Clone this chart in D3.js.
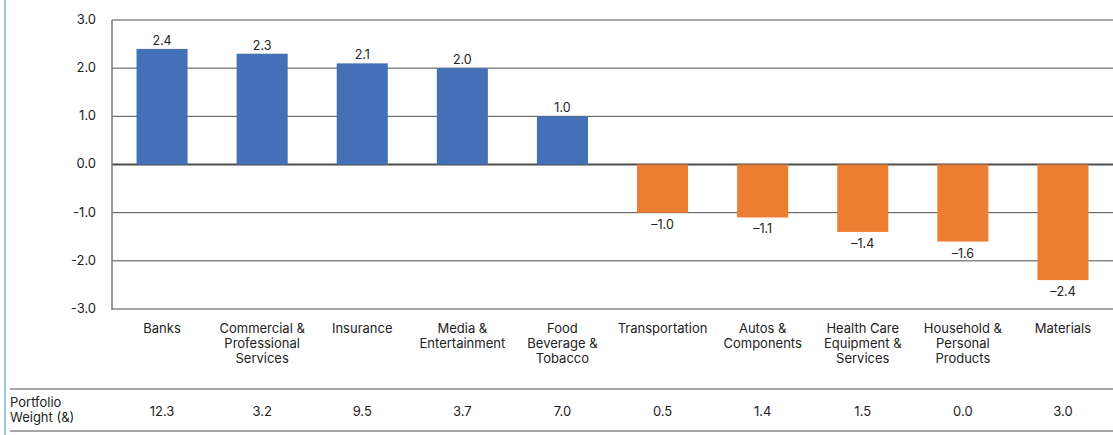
<!DOCTYPE html>
<meta charset="utf-8">
<style>
body { margin: 0; background: #fff; }
svg text { font-family: "Inter", "Liberation Sans", sans-serif; fill: #222; }
</style>
<body>
<svg width="1113" height="435"></svg>
<script src="https://cdnjs.cloudflare.com/ajax/libs/d3/7.8.5/d3.min.js"></script>
<script>

var categories = ["Banks", "Commercial &\nProfessional\nServices", "Insurance", "Media &\nEntertainment",
  "Food\nBeverage &\nTobacco", "Transportation", "Autos &\nComponents", "Health Care\nEquipment &\nServices",
  "Household &\nPersonal\nProducts", "Materials"];
var values = [2.4, 2.3, 2.1, 2.0, 1.0, -1.0, -1.1, -1.4, -1.6, -2.4];
var weights = ["12.3", "3.2", "9.5", "3.7", "7.0", "0.5", "1.4", "1.5", "0.0", "3.0"];
var yTicks = [3, 2, 1, 0, -1, -2, -3];
var yTickLabels = ["3.0", "2.0", "1.0", "0.0", "-1.0", "-2.0", "-3.0"];
var weightLabel = ["Portfolio", "Weight (&)"];

var svg = d3.select("svg"),
    W = +svg.attr("width"),
    plotLeft = 112, plotTop = 20, plotBottom = 309;

var x = d3.scaleBand()
    .domain(categories)
    .range([plotLeft, W])
    .paddingInner(0.49)
    .paddingOuter(0.245);

var y = d3.scaleLinear()
    .domain([-3, 3])
    .range([plotBottom, plotTop]);

// left accent line
svg.append("line")
    .attr("x1", 5).attr("x2", 5).attr("y1", 0).attr("y2", 435)
    .attr("stroke", "#74b3e3").attr("stroke-width", 1.5);

// gridlines
svg.append("g").selectAll("line")
    .data(yTicks)
  .enter().append("line")
    .attr("x1", plotLeft).attr("x2", W)
    .attr("y1", function(d) { return y(d); })
    .attr("y2", function(d) { return y(d); })
    .attr("stroke", function(d) { return (d == 3 || d == -3) ? "#8a8a8a" : "#4d4d4d"; })
    .attr("stroke-width", function(d) { return d == 0 ? 2 : (d == 3 || d == -3) ? 1.5 : 1; });

// y axis line
svg.append("line")
    .attr("x1", plotLeft).attr("x2", plotLeft).attr("y1", plotTop).attr("y2", plotBottom + 1)
    .attr("stroke", "#7a7a7a").attr("stroke-width", 1.5);

// y tick labels
svg.append("g").selectAll("text")
    .data(yTicks)
  .enter().append("text")
    .attr("x", 96)
    .attr("y", function(d) { return y(d); })
    .attr("dy", "0.3em")
    .attr("text-anchor", "end")
    .style("font-size", "13px")
    .text(function(d, i) { return yTickLabels[i]; });

// bars
svg.append("g").selectAll("rect")
    .data(values)
  .enter().append("rect")
    .attr("x", function(d, i) { return x(categories[i]); })
    .attr("width", x.bandwidth())
    .attr("y", function(d) { return y(Math.max(0, d)); })
    .attr("height", function(d) { return Math.abs(y(d) - y(0)); })
    .attr("fill", function(d) { return d >= 0 ? "#4470b8" : "#ed7d31"; });

// value labels
svg.append("g").selectAll("text")
    .data(values)
  .enter().append("text")
    .attr("x", function(d, i) { return x(categories[i]) + x.bandwidth() / 2; })
    .attr("y", function(d) { return d >= 0 ? y(d) - 4 : y(d) + 16; })
    .attr("text-anchor", "middle")
    .style("font-size", "12.5px")
    .text(function(d) { return d >= 0 ? d.toFixed(1) : "\u2013" + Math.abs(d).toFixed(1); });

// category labels
svg.append("g").selectAll("text")
    .data(categories)
  .enter().append("text")
    .attr("y", 333)
    .attr("text-anchor", "middle")
    .style("font-size", "13px")
    .each(function(d) {
      var t = d3.select(this);
      d.split("\n").forEach(function(line, i) {
        t.append("tspan")
          .attr("x", x(d) + x.bandwidth() / 2)
          .attr("dy", i == 0 ? 0 : 15)
          .text(line);
      });
    });

// table lines
svg.append("g").selectAll("line")
    .data([389, 431])
  .enter().append("line")
    .attr("x1", 10).attr("x2", W)
    .attr("y1", function(d) { return d; }).attr("y2", function(d) { return d; })
    .attr("stroke", "#8a8a8a").attr("stroke-width", 1.5);

svg.append("g").selectAll("text")
    .data(weightLabel)
  .enter().append("text")
    .attr("x", 10)
    .attr("y", function(d, i) { return 407 + i * 15; })
    .style("font-size", "13px")
    .text(function(d) { return d; });

svg.append("g").selectAll("text")
    .data(weights)
  .enter().append("text")
    .attr("x", function(d, i) { return x(categories[i]) + x.bandwidth() / 2; })
    .attr("y", 416)
    .attr("text-anchor", "middle")
    .style("font-size", "13px")
    .text(function(d) { return d; });

</script>
</body>
